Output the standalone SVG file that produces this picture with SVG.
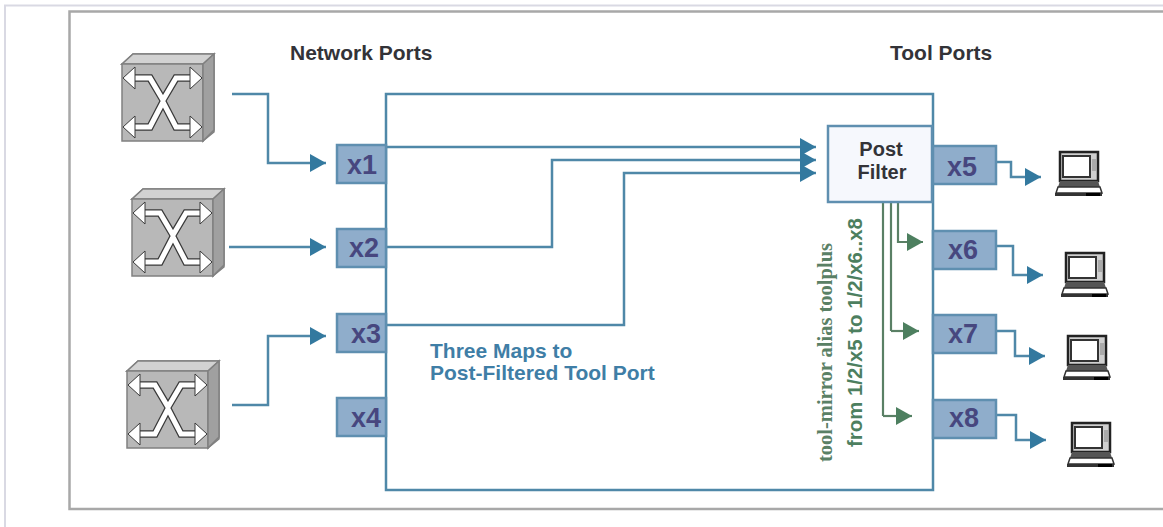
<svg xmlns="http://www.w3.org/2000/svg" xmlns:xlink="http://www.w3.org/1999/xlink" width="1163" height="527" viewBox="0 0 1163 527">
<style>
.t{font-family:"Liberation Sans",Arial,sans-serif;font-weight:bold}
.h{font-size:21px;fill:#333338}
.p{font-size:27px;fill:#47477f;text-anchor:middle}
.port{fill:#8fadcb;stroke:#5f8fb0;stroke-width:2.5}
.b{fill:none;stroke:#4f88a8;stroke-width:2.5}
.g{fill:none;stroke:#5a8065;stroke-width:2.2}
</style>
<defs>
<marker id="ab" markerUnits="userSpaceOnUse" markerWidth="17" markerHeight="18" refX="16" refY="9" orient="auto"><path d="M0 0L16 9L0 18Z" fill="#33799f"/></marker>
<marker id="ag" markerUnits="userSpaceOnUse" markerWidth="17" markerHeight="18" refX="16" refY="9" orient="auto"><path d="M0 0L16 9L0 18Z" fill="#4d7f5f"/></marker>
<g id="sw">
<path d="M0 10L11 0H92V78L81 87V10Z" fill="#a6a6a6" stroke="#808080" stroke-width="1.5"/>
<path d="M0 10L11 0H92L81 10Z" fill="#d2d2d2" stroke="#808080" stroke-width="1.500"/>
<rect x="0" y="10" width="81" height="77" fill="#b8b8b8" stroke="#808080" stroke-width="1.5"/>
<path d="M81 10L92 0V76L81 87Z" fill="#a0a0a0" stroke="#808080" stroke-width="1.5"/>
<path d="M10 24H28L41 46L54 24H70M10 73H28L41 48L54 73H70" fill="none" stroke="#3a3a3a" stroke-width="7.500"/>
<path d="M10 24H28L41 46L54 24H70M10 73H28L41 48L54 73H70" fill="none" stroke="#fff" stroke-width="5"/>
<path d="M1 24L13 13V35ZM80 24L68 13V35ZM1 73L13 62V84ZM80 73L68 62V84Z" fill="#fff" stroke="#3a3a3a" stroke-width="1"/>
</g>
<g id="lap">
<path d="M5 1H43V30H5Z" fill="#cfcfcf" stroke="#222" stroke-width="2.5"/>
<rect x="8" y="5" width="27" height="21" fill="#fff" stroke="#333" stroke-width="2"/>
<rect x="37" y="8" width="4" height="12" fill="#aaa"/>
<path d="M5 30H43L45 36H3Z" fill="#555"/>
<path d="M3 36H45L47 42H1Z" fill="#fff" stroke="#333" stroke-width="1.5"/>
<path d="M0 42H47V45H0Z" fill="#333"/>
<rect x="31" y="42" width="14" height="3" fill="#000"/>
</g>
</defs>
<rect width="1163" height="527" fill="#fff"/>
<path d="M5 527V5.500H1163" fill="none" stroke="#d9d9e3" stroke-width="2"/>
<path d="M1163 11.500H69.500V509H1163" fill="none" stroke="#a8a8a8" stroke-width="2.500"/>
<g id="title-network"><text class="t h" x="290" y="60">Network Ports</text></g>
<g id="title-tool"><text class="t h" x="890" y="60">Tool Ports</text></g>
<g id="main-box"><rect x="386" y="94" width="547" height="396" fill="#fff" stroke="#4f88a8" stroke-width="2.500"/></g>
<g id="switch1"><use href="#sw" xlink:href="#sw" transform="translate(122 54)"/></g>
<g id="switch2"><use href="#sw" xlink:href="#sw" transform="translate(132 189)"/></g>
<g id="switch3"><use href="#sw" xlink:href="#sw" transform="translate(127 361)"/></g>
<g id="connectors">
<path class="b" marker-end="url(#ab)" d="M232 94H268V163H326"/>
<path class="b" marker-end="url(#ab)" d="M229 247H326"/>
<path class="b" marker-end="url(#ab)" d="M232 405H268V336H326"/>
<path class="b" marker-end="url(#ab)" d="M386 147H816"/>
<path class="b" marker-end="url(#ab)" d="M386 247H552V160H816"/>
<path class="b" marker-end="url(#ab)" d="M386 325H624V173H816"/>
<path class="g" d="M883 202V416"/>
<path class="g" marker-end="url(#ag)" d="M883 416H912"/>
<path class="g" d="M891 202V331"/>
<path class="g" marker-end="url(#ag)" d="M891 331H919"/>
<path class="g" marker-end="url(#ag)" d="M898 202V242H923"/>
<path class="b" marker-end="url(#ab)" d="M996 162H1011V177H1041"/>
<path class="b" marker-end="url(#ab)" d="M996 246H1013V275H1043"/>
<path class="b" marker-end="url(#ab)" d="M996 331H1015V356H1045"/>
<path class="b" marker-end="url(#ab)" d="M996 415H1016V440H1046"/>
</g>
<g id="x1"><rect class="port" x="337" y="145" width="49" height="38"/><text class="t p" x="362" y="174">x1</text></g>
<g id="x2"><rect class="port" x="337" y="229" width="49" height="38"/><text class="t p" x="364" y="257">x2</text></g>
<g id="x3"><rect class="port" x="337" y="314" width="49" height="38"/><text class="t p" x="366" y="343">x3</text></g>
<g id="x4"><rect class="port" x="337" y="398" width="49" height="38"/><text class="t p" x="366" y="427">x4</text></g>
<g id="post-filter"><rect x="828" y="126" width="104" height="76" fill="#f6f8fd" stroke="#5f8fb0" stroke-width="2.500"/><text class="t" font-size="20" fill="#333338" text-anchor="middle" x="881" y="156">Post</text><text class="t" font-size="20" fill="#333338" text-anchor="middle" x="882" y="179">Filter</text></g>
<g id="x5"><rect class="port" x="933" y="146" width="63" height="38"/><text class="t p" x="962" y="176">x5</text></g>
<g id="x6"><rect class="port" x="933" y="231" width="63" height="38"/><text class="t p" x="963" y="259">x6</text></g>
<g id="x7"><rect class="port" x="933" y="315" width="63" height="38"/><text class="t p" x="963" y="343">x7</text></g>
<g id="x8"><rect class="port" x="933" y="400" width="63" height="38"/><text class="t p" x="964" y="427">x8</text></g>
<g id="laptop5"><use href="#lap" xlink:href="#lap" transform="translate(1055 151)"/></g>
<g id="laptop6"><use href="#lap" xlink:href="#lap" transform="translate(1061 252)"/></g>
<g id="laptop7"><use href="#lap" xlink:href="#lap" transform="translate(1063 335)"/></g>
<g id="laptop8"><use href="#lap" xlink:href="#lap" transform="translate(1067 422)"/></g>
<g id="label-maps"><text class="t" font-size="21" fill="#3f7ea6" x="430" y="358">Three Maps to</text><text class="t" font-size="21" fill="#3f7ea6" x="430" y="380">Post-Filtered Tool Port</text></g>
<g id="label-green">
<text transform="translate(832 462) rotate(-90)" font-family="'Liberation Serif',serif" font-weight="bold" font-size="20.500" fill="#5a8065">tool-mirror alias toolplus</text>
<text transform="translate(862 447) rotate(-90)" font-family="'Liberation Sans',sans-serif" font-weight="bold" font-size="20.400" fill="#4d7f5f">from 1/2/x5 to 1/2/x6..x8</text>
</g>
</svg>
